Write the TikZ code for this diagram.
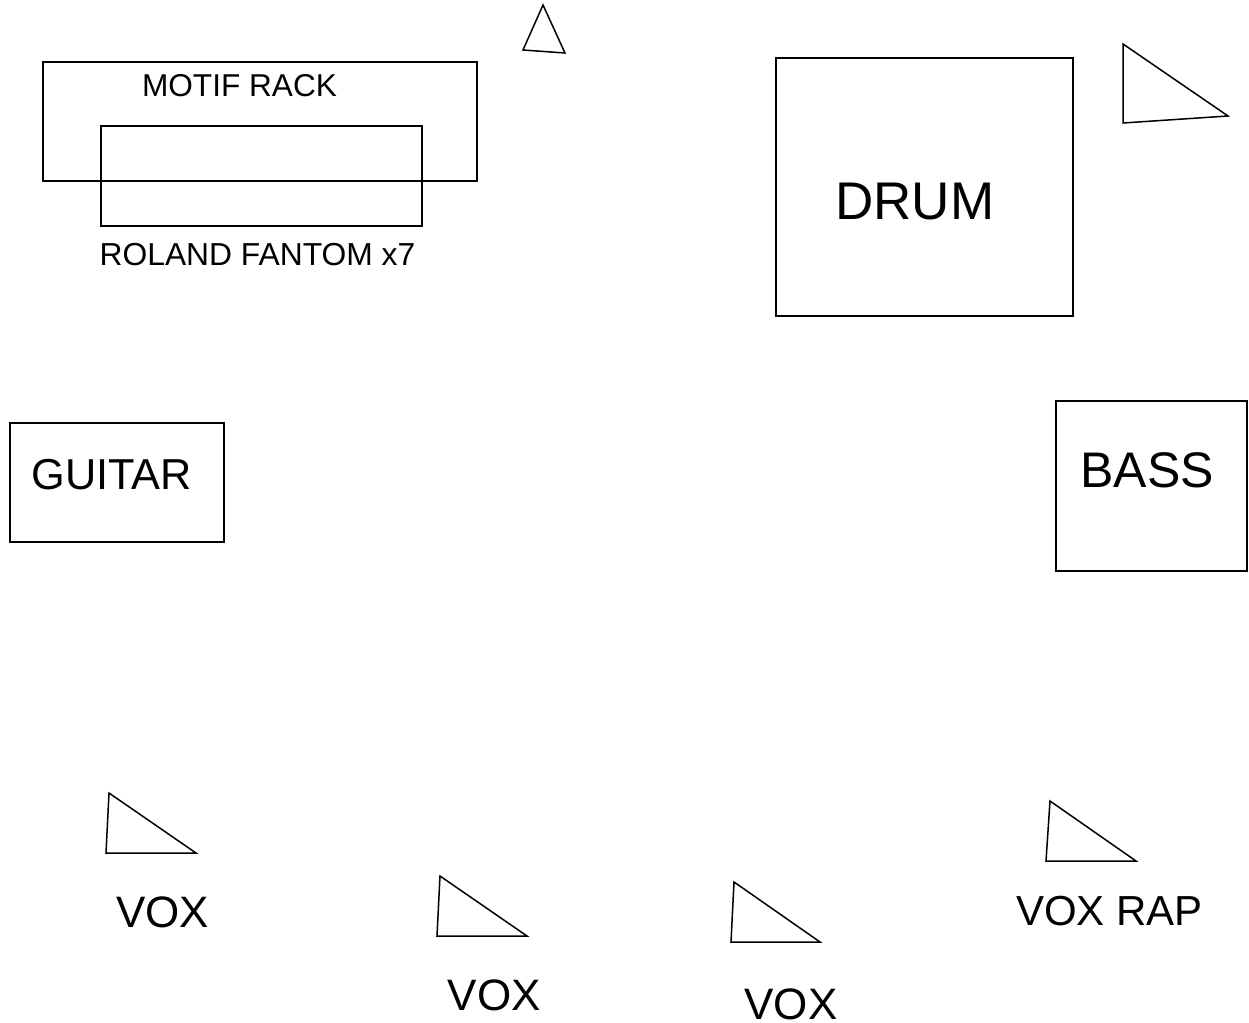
\documentclass[tikz,border=0pt]{standalone}
\usepackage{fontspec}
\setmainfont{Liberation Sans}
\begin{document}
\begin{tikzpicture}[x=1pt,y=-1pt,
  outline/.style={draw=black,line width=1.5pt,line join=miter},
  lbl/.style={inner sep=0pt,anchor=base,text=black}]
\useasboundingbox (0,0) rectangle (1249,1022);
% boxes
\draw[outline] (43,62) rectangle (477,181);
\draw[outline] (101,126) rectangle (422,226);
\draw[outline] (776,58) rectangle (1073,316);
\draw[outline] (10,423) rectangle (224,542);
\draw[outline] (1056,401) rectangle (1247,571);
% monitor wedges
\draw[outline] (543,5) -- (565,53) -- (523,50) -- cycle;
\draw[outline] (1123,44) -- (1228,116) -- (1123,123) -- cycle;
\draw[outline] (109,793) -- (196,853) -- (106,853) -- cycle;
\draw[outline] (440,876) -- (527,936) -- (437,936) -- cycle;
\draw[outline] (734,882) -- (820,942) -- (731,942) -- cycle;
\draw[outline] (1050,801) -- (1136,861) -- (1046,861) -- cycle;
% labels
\node[lbl,font=\fontsize{31.6}{37}\selectfont] (motif) at (239.5,97) {MOTIF RACK};
\node[lbl,font=\fontsize{31.8}{37}\selectfont] (fantom) at (257.5,265) {ROLAND FANTOM x7};
\node[lbl,font=\fontsize{53}{60}\selectfont] (drum) at (914.8,219) {DRUM};
\node[lbl,font=\fontsize{43.3}{50}\selectfont] (guitar) at (111.5,489.3) {GUITAR};
\node[lbl,font=\fontsize{50}{58}\selectfont] (bass) at (1147.3,487.3) {BASS};
\node[lbl,font=\fontsize{44}{52}\selectfont] (vox1) at (162.5,927) {VOX};
\node[lbl,font=\fontsize{44}{52}\selectfont] (vox2) at (494.3,1010) {VOX};
\node[lbl,font=\fontsize{44}{52}\selectfont] (vox3) at (791,1019) {VOX};
\node[lbl,font=\fontsize{42}{50}\selectfont] (voxrap) at (1109.5,925) {VOX RAP};
\end{tikzpicture}
\end{document}
